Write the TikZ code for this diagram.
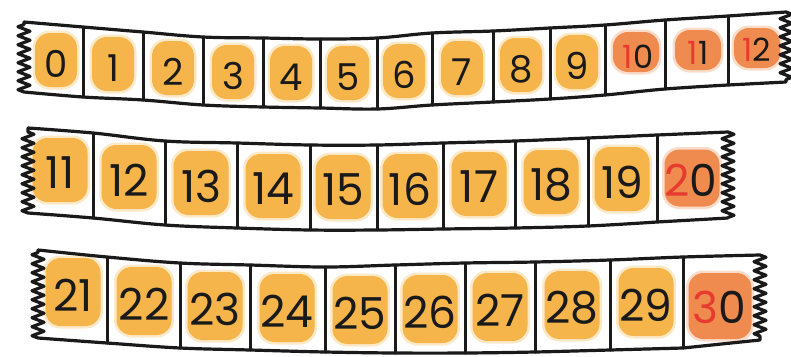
\documentclass[tikz,border=0pt]{standalone}
\usepackage{fontspec}
\newfontfamily\tapefont{Poppins}
\usetikzlibrary{decorations.pathmorphing}
\definecolor{hlorange}{HTML}{F6B54A}
\definecolor{hlred}{HTML}{F08B4F}
\definecolor{digitred}{HTML}{E63B2E}
\definecolor{ink}{HTML}{1A1A1A}

\begin{document}
\begin{tikzpicture}[
    x=1pt, y=-1pt,
    % Tape outline
    tape/.style={line width=3.2pt, draw=ink, line join=round, line cap=round},
    zig/.style={decoration={zigzag, amplitude=6pt, segment length=9pt}},
    divider/.style={line width=3pt, draw=ink, line cap=round},
    % Highlight blobs
    blob/.style={rectangle, rounded corners=15pt, fill=#1, inner sep=0pt},
    halo/.style={rectangle, rounded corners=17pt, fill=#1, fill opacity=0.3, inner sep=0pt},
    % Digits
    handdigit/.style={font=\tapefont\fontsize{37}{37}\selectfont, text=ink, inner sep=0pt},
    smalldigit/.style={font=\tapefont\fontsize{32}{32}\selectfont, text=ink, inner sep=0pt},
    bigdigit/.style={font=\tapefont\fontsize{44}{44}\selectfont, text=ink, inner sep=0pt}
  ]
  \useasboundingbox (0,0) rectangle (791,356);

  % ============ Tape 1: 0 to 12 ============
  \foreach \n/\cx/\cy in {0/56/60, 1/113/64, 2/173/68, 3/233/72, 4/291/73, 5/348/73,
      6/404/71, 7/462/68, 8/521/65, 9/577/62}{
    \node[halo=hlorange, minimum width=47pt, minimum height=59pt] (a\n-halo) at (\cx,\cy) {};
    \node[blob=hlorange, minimum width=42pt, minimum height=54pt] (a\n-hl) at (\cx,\cy) {};
    \node[handdigit] (a\n) at (\cx,\cy+4) {\n};
  }
  \foreach \n/\cx/\cy in {10/636/52, 11/698/50, 12/757/48}{
    \node[halo=hlred, minimum width=51pt, minimum height=45pt] (a\n-halo) at (\cx,\cy) {};
    \node[blob=hlred, minimum width=46pt, minimum height=40pt] (a\n-hl) at (\cx,\cy) {};
  }
  \node[smalldigit] (a10) at (638,57) {\textcolor{digitred}{1}0};
  \node[smalldigit] (a11) at (698,53) {\textcolor{digitred}{1}1};
  \node[smalldigit] (a12) at (757,50) {\textcolor{digitred}{1}2};

  \draw[tape] plot[smooth, tension=0.6] coordinates {(24,22) (83,27) (143,32) (203,37)
      (263,38) (320,39) (377,38) (432,33) (493,31) (550,28) (605,25) (665,20) (728,16) (786,12)}
    decorate[zig]{-- (786,82)}
    -- plot[smooth, tension=0.6] coordinates {(728,85) (665,89) (605,95) (550,99) (493,102)
      (432,105) (377,109) (320,108) (263,107) (203,105) (143,100) (83,97) (24,92)}
    decorate[zig]{-- (24,22)};
  \foreach \x/\t/\b in {83/27/97, 143/32/100, 203/37/105, 263/38/107, 320/39/108,
      377/38/109, 432/33/105, 493/31/102, 550/28/99, 605/25/95, 665/20/89, 728/16/85}
    \draw[divider] (\x,\t) -- (\x,\b);

  % ============ Tape 2: 11 to 20 ============
  \foreach \n/\cx/\cy in {11/60/170, 12/129/177, 13/201/183, 14/273/186, 15/343/187,
      16/410/186, 17/479/184, 18/551/182, 19/622/179}{
    \node[halo=hlorange, minimum width=60pt, minimum height=69pt] (b\n-halo) at (\cx,\cy) {};
    \node[blob=hlorange, minimum width=55pt, minimum height=64pt] (b\n-hl) at (\cx,\cy) {};
    \node[bigdigit] (b\n) at (\cx,\cy+3) {\n};
  }
  \node[halo=hlred, minimum width=60pt, minimum height=62pt] (b20-halo) at (692,178) {};
  \node[blob=hlred, minimum width=55pt, minimum height=57pt] (b20-hl) at (692,178) {};
  \node[bigdigit] (b20) at (691,180) {\textcolor{digitred}{2}0};

  \draw[tape] plot[smooth, tension=0.6] coordinates {(28,128) (93,133) (165,141) (237,143)
      (310,145) (377,145) (443,143) (515,141) (588,138) (657,135) (728,132)}
    decorate[zig]{-- (728,218)}
    -- plot[smooth, tension=0.6] coordinates {(657,222) (588,226) (515,228) (443,229)
      (377,230) (310,230) (237,228) (165,225) (93,218) (28,213)}
    decorate[zig]{-- (28,128)};
  \foreach \x/\t/\b in {93/133/218, 165/141/225, 237/143/228, 310/145/230, 377/145/230,
      443/143/229, 515/141/228, 588/138/226, 657/135/222}
    \draw[divider] (\x,\t) -- (\x,\b);

  % ============ Tape 3: 21 to 30 ============
  \foreach \n/\cx/\cy in {21/73/292, 22/144/301, 23/215/306, 24/287/308, 25/360/310,
      26/430/309, 27/500/307, 28/572/305, 29/646/302}{
    \node[halo=hlorange, minimum width=60pt, minimum height=73pt] (c\n-halo) at (\cx,\cy) {};
    \node[blob=hlorange, minimum width=55pt, minimum height=68pt] (c\n-hl) at (\cx,\cy) {};
    \node[bigdigit] (c\n) at (\cx,\cy+3) {\n};
  }
  \node[halo=hlred, minimum width=68pt, minimum height=71pt] (c30-halo) at (720,306) {};
  \node[blob=hlred, minimum width=63pt, minimum height=66pt] (c30-hl) at (720,306) {};
  \node[bigdigit] (c30) at (719,307) {\textcolor{digitred}{3}0};

  \draw[tape] plot[smooth, tension=0.6] coordinates {(38,250) (107,257) (180,263) (250,265)
      (325,267) (395,265) (465,263) (535,262) (610,260) (683,257) (760,255)}
    decorate[zig]{-- (760,340)}
    -- plot[smooth, tension=0.6] coordinates {(683,348) (610,350) (535,352) (465,353)
      (395,353) (325,352) (250,350) (180,348) (107,343) (38,338)}
    decorate[zig]{-- (38,250)};
  \foreach \x/\t/\b in {107/257/343, 180/263/348, 250/265/350, 325/267/352, 395/265/353,
      465/263/353, 535/262/352, 610/260/350, 683/257/348}
    \draw[divider] (\x,\t) -- (\x,\b);

\end{tikzpicture}
\end{document}
